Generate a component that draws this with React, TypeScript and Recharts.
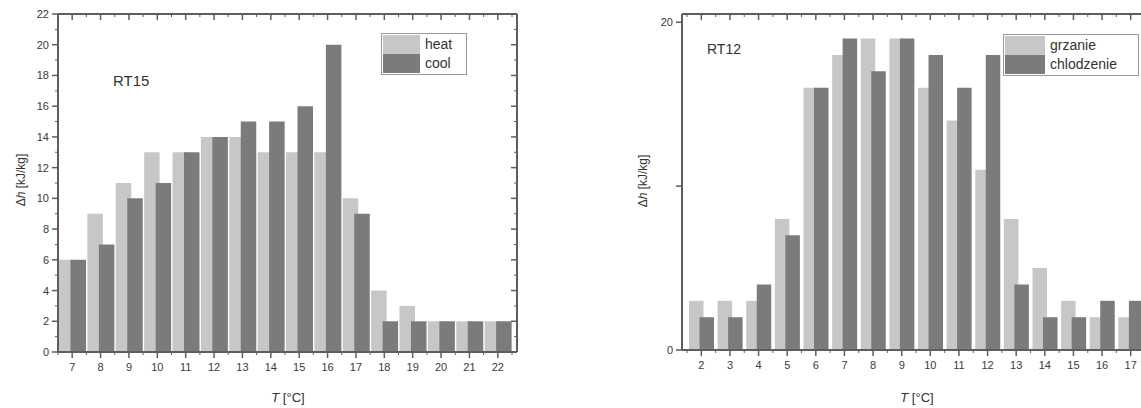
import React from 'react';
import { BarChart, Bar, XAxis, YAxis } from 'recharts';

// ---- data: RT15 (left chart) ----
const rt15Temps = [7, 8, 9, 10, 11, 12, 13, 14, 15, 16, 17, 18, 19, 20, 21, 22];
const rt15Heat = [6, 9, 11, 13, 13, 14, 14, 13, 13, 13, 10, 4, 3, 2, 2, 2];
const rt15Cool = [6, 7, 10, 11, 13, 14, 15, 15, 16, 20, 9, 2, 2, 2, 2, 2];
const rt15YTicks = [0, 1, 2, 3, 4, 5, 6, 7, 8, 9, 10, 11, 12, 13, 14, 15, 16, 17, 18, 19, 20, 21, 22];
const rt15Names = ['heat', 'cool'];

// ---- data: RT12 (right chart) ----
const rt12Temps = [2, 3, 4, 5, 6, 7, 8, 9, 10, 11, 12, 13, 14, 15, 16, 17];
const rt12Heat = [3, 3, 3, 8, 16, 18, 19, 19, 16, 14, 11, 8, 5, 3, 2, 2];
const rt12Cool = [2, 2, 4, 7, 16, 19, 17, 19, 18, 16, 18, 4, 2, 2, 3, 3];
const rt12YTicks = [0, 10, 20];
const rt12YLabels = ['0', '', '20'];
const rt12Names = ['grzanie', 'chlodzenie'];

const HEAT = '#c7c7c7';
const COOL = '#7b7b7b';
const AXIS = '#5e5e5e';
const TXT = '#3a3a3a';
const FONT = '"Liberation Sans", Arial, Helvetica, sans-serif';

const rt15Data = rt15Temps.map((t, i) => ({ t, heat: rt15Heat[i], cool: rt15Cool[i] }));
const rt12Data = rt12Temps.map((t, i) => ({ t, heat: rt12Heat[i], cool: rt12Cool[i] }));

function bottomTick(half: number, count: number) {
  return (p: any) => {
    const { x, y, payload, index } = p;
    return (
      <g>
        <line x1={x} x2={x} y1={y} y2={y + 6} stroke={AXIS} strokeWidth={1.5} />
        <line x1={x - half} x2={x - half} y1={y} y2={y + 3} stroke={AXIS} strokeWidth={1} />
        {index === count - 1 ? (
          <line x1={x + half} x2={x + half} y1={y} y2={y + 3} stroke={AXIS} strokeWidth={1} />
        ) : null}
        <text x={x} y={y + 19} textAnchor="middle" fontSize={11} fill={TXT} fontFamily={FONT}>
          {payload.value}
        </text>
      </g>
    );
  };
}

function topTick(half: number, count: number) {
  return (p: any) => {
    const { x, y, index } = p;
    return (
      <g>
        <line x1={x} x2={x} y1={y} y2={y + 6} stroke={AXIS} strokeWidth={1.5} />
        <line x1={x - half} x2={x - half} y1={y} y2={y + 3} stroke={AXIS} strokeWidth={1} />
        {index === count - 1 ? (
          <line x1={x + half} x2={x + half} y1={y} y2={y + 3} stroke={AXIS} strokeWidth={1} />
        ) : null}
      </g>
    );
  };
}

function leftTickRT15(p: any) {
  const { x, y, payload } = p;
  const major = payload.value % 2 === 0;
  return (
    <g>
      <line x1={x - (major ? 6 : 3)} x2={x} y1={y} y2={y} stroke={AXIS} strokeWidth={major ? 1.5 : 1} />
      {major ? (
        <text x={x - 9} y={y + 4} textAnchor="end" fontSize={11} fill={TXT} fontFamily={FONT}>
          {payload.value}
        </text>
      ) : null}
    </g>
  );
}

function rightTickRT15(p: any) {
  const { x, y, payload } = p;
  const major = payload.value % 2 === 0;
  return <line x1={x - (major ? 6 : 3)} x2={x} y1={y} y2={y} stroke={AXIS} strokeWidth={major ? 1.5 : 1} />;
}

function leftTickRT12(p: any) {
  const { x, y, index } = p;
  return (
    <g>
      <line x1={x - 6} x2={x} y1={y} y2={y} stroke={AXIS} strokeWidth={1.5} />
      <text x={x - 9} y={y + 4} textAnchor="end" fontSize={11} fill={TXT} fontFamily={FONT}>
        {rt12YLabels[index] ?? ''}
      </text>
    </g>
  );
}

function rightTickRT12(p: any) {
  const { x, y } = p;
  return <line x1={x - 6} x2={x} y1={y} y2={y} stroke={AXIS} strokeWidth={1.5} />;
}

const axisLine = { stroke: AXIS, strokeWidth: 2 };

function LegendBox({ left, top, names, swatch, width }: any) {
  return (
    <div
      style={{
        position: 'absolute',
        left,
        top,
        width,
        border: '1px solid #9a9a9a',
        background: '#fff',
        padding: 1,
        fontFamily: FONT,
        fontSize: 14,
        color: '#333',
      }}
    >
      {names.map((n: string, i: number) => (
        <div key={n} style={{ display: 'flex', alignItems: 'center', height: 19 }}>
          <div style={{ width: swatch, height: 19, background: i === 0 ? HEAT : COOL }} />
          <span style={{ marginLeft: 5, lineHeight: '19px' }}>{n}</span>
        </div>
      ))}
    </div>
  );
}

const txt = (style: any) => ({ position: 'absolute' as const, fontFamily: FONT, color: '#333', whiteSpace: 'nowrap' as const, ...style });

export default function App() {
  return (
    <div style={{ position: 'absolute', left: 0, top: 0, width: 1141, height: 408, overflow: 'hidden', background: '#fff' }}>
      {/* Left chart RT15: plot x 58..517, y 14..352 */}
      <div style={{ position: 'absolute', left: 0, top: 0 }}>
        <BarChart
          width={560}
          height={408}
          data={rt15Data}
          margin={{ top: 13, left: 18, right: 42, bottom: 26 }}
          barSize={15.5}
          barGap={-4}
        >
          <XAxis dataKey="t" interval={0} padding={{ left: 0, right: 5 }} tickLine={false} tickSize={0} tickMargin={0} height={30} axisLine={axisLine} tick={bottomTick(14.19, 16)} />
          <XAxis xAxisId="top" orientation="top" dataKey="t" interval={0} padding={{ left: 0, right: 5 }} tickLine={false} tickSize={0} tickMargin={0} height={1} axisLine={axisLine} tick={topTick(14.19, 16)} />
          <YAxis type="number" domain={[0, 22]} allowDataOverflow ticks={rt15YTicks} interval={0} width={40} tickLine={false} tickSize={0} tickMargin={0} axisLine={axisLine} tick={leftTickRT15} />
          <YAxis yAxisId="right" orientation="right" type="number" domain={[0, 22]} allowDataOverflow ticks={rt15YTicks} interval={0} width={1} tickLine={false} tickSize={0} tickMargin={0} axisLine={axisLine} tick={rightTickRT15} />
          <Bar dataKey="heat" name={rt15Names[0]} fill={HEAT} isAnimationActive={false} />
          <Bar dataKey="cool" name={rt15Names[1]} fill={COOL} isAnimationActive={false} />
        </BarChart>
      </div>

      {/* Right chart RT12: plot x 682..1150, y 14..350 */}
      <div style={{ position: 'absolute', left: 570, top: 0 }}>
        <BarChart
          width={600}
          height={408}
          data={rt12Data}
          margin={{ top: 13, left: 72, right: 19, bottom: 28 }}
          barSize={14.5}
          barGap={-4}
        >
          <XAxis dataKey="t" interval={0} padding={{ left: 5, right: 5 }} tickLine={false} tickSize={0} tickMargin={0} height={30} axisLine={axisLine} tick={bottomTick(14.3, 16)} />
          <XAxis xAxisId="top" orientation="top" dataKey="t" interval={0} padding={{ left: 5, right: 5 }} tickLine={false} tickSize={0} tickMargin={0} height={1} axisLine={axisLine} tick={topTick(14.3, 16)} />
          <YAxis type="number" domain={[0, 20.5]} allowDataOverflow ticks={rt12YTicks} interval={0} width={40} tickLine={false} tickSize={0} tickMargin={0} axisLine={axisLine} tick={leftTickRT12} />
          <YAxis yAxisId="right" orientation="right" type="number" domain={[0, 20.5]} allowDataOverflow ticks={rt12YTicks} interval={0} width={1} tickLine={false} tickSize={0} tickMargin={0} axisLine={axisLine} tick={rightTickRT12} />
          <Bar dataKey="heat" name={rt12Names[0]} fill={HEAT} isAnimationActive={false} />
          <Bar dataKey="cool" name={rt12Names[1]} fill={COOL} isAnimationActive={false} />
        </BarChart>
      </div>

      {/* Annotations */}
      <div style={txt({ left: 113, top: 72, fontSize: 15 })}>RT15</div>
      <div style={txt({ left: 707, top: 41, fontSize: 14 })}>RT12</div>

      <LegendBox left={381} top={33} width={82} swatch={37} names={rt15Names} />
      <LegendBox left={1003} top={34} width={132} swatch={40} names={rt12Names} />

      {/* Axis titles */}
      <div style={txt({ left: 21, top: 180, fontSize: 12, transform: 'translate(-50%, -50%) rotate(-90deg)' })}>
        Δ<i>h</i> [kJ/kg]
      </div>
      <div style={txt({ left: 643, top: 181, fontSize: 12, transform: 'translate(-50%, -50%) rotate(-90deg)' })}>
        Δ<i>h</i> [kJ/kg]
      </div>
      <div style={txt({ left: 288, top: 397, fontSize: 13, transform: 'translate(-50%, -50%)' })}>
        <i>T</i> [°C]
      </div>
      <div style={txt({ left: 917, top: 397, fontSize: 13, transform: 'translate(-50%, -50%)' })}>
        <i>T</i> [°C]
      </div>
    </div>
  );
}
